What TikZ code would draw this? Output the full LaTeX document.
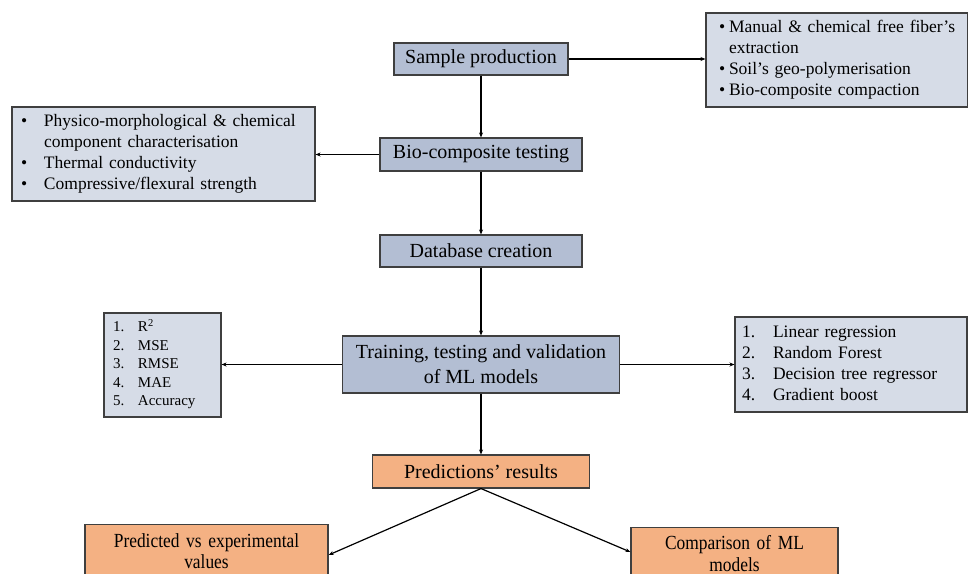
\documentclass[tikz,border=0pt]{standalone}
\usepackage{fontspec}
\setmainfont{Liberation Serif}
\newfontfamily\condserif{Liberation Serif}[FakeStretch=0.87]
\usetikzlibrary{arrows.meta,calc}
\definecolor{flowMain}{HTML}{B3BED3}
\definecolor{flowSide}{HTML}{D6DCE7}
\definecolor{flowResult}{HTML}{F4B183}
\definecolor{flowLine}{HTML}{3F3F3F}

\begin{document}
\begin{tikzpicture}[
    x=1pt, y=-1pt,
    >={Stealth[length=5pt,width=4pt]},
    line width=1.2pt,
    box/.style={draw=flowLine, line width=1.1pt, inner sep=0pt},
    mainbox/.style={box, fill=flowMain, align=center, font=\fontsize{20}{25}\selectfont},
    sidebox/.style={box, fill=flowSide, align=left, font=\fontsize{17.5}{21}\selectfont},
    resultbox/.style={box, fill=flowResult, align=center, inner ysep=9pt,
      font=\condserif\fontsize{20}{21.5}\selectfont},
    link/.style={->, black},
  ]
  \useasboundingbox (0,0) rectangle (968,573);

  % Main chain
  \node[mainbox, minimum width=174pt, minimum height=32pt] (sample) at (481,59) {Sample production};
  \node[mainbox, minimum width=202pt, minimum height=33pt] (testing) at (481,154.5) {Bio-composite testing};
  \node[mainbox, minimum width=202pt, minimum height=32pt] (database) at (481,251) {Database creation};
  \node[mainbox, minimum width=277pt, minimum height=57pt] (training) at (481,364.5)
    {Training, testing and validation\\ of ML models};
  \node[mainbox, fill=flowResult, minimum width=217pt, minimum height=33pt] (predictions) at (481,471.5)
    {Predictions’ results};

  % Side boxes
  \node[sidebox, minimum width=260pt, minimum height=94pt, text width=236pt, inner xsep=13pt] (fiber) at (837,60)
    {\begin{tabular}{@{}p{10pt}@{}l@{}}
      \textbullet & Manual \& chemical free fiber’s\\
      & extraction\\
      \textbullet & Soil’s geo-polymerisation\\
      \textbullet & Bio-composite compaction
    \end{tabular}};
  \node[sidebox, minimum width=303pt, minimum height=94pt, text width=285pt, inner xsep=9pt] (charact) at (163.5,154)
    {\begin{tabular}{@{}p{23pt}@{}l@{}}
      \textbullet & Physico-morphological \& chemical\\
      & component characterisation\\
      \textbullet & Thermal conductivity\\
      \textbullet & Compressive/flexural strength
    \end{tabular}};
  \node[sidebox, font=\fontsize{15}{18.5}\selectfont, minimum width=117pt, minimum height=104pt,
    text width=99pt, inner xsep=9pt] (metrics) at (162.5,365)
    {\begin{tabular}{@{}p{25pt}@{}l@{}}
      1. & R\textsuperscript{2}\\
      2. & MSE\\
      3. & RMSE\\
      4. & MAE\\
      5. & Accuracy
    \end{tabular}};
  \node[sidebox, minimum width=232pt, minimum height=95pt, text width=218pt, inner xsep=7pt] (models) at (851,364.5)
    {\begin{tabular}{@{}p{31pt}@{}l@{}}
      1. & Linear regression\\
      2. & Random Forest\\
      3. & Decision tree regressor\\
      4. & Gradient boost
    \end{tabular}};

  % Result boxes (cut by the lower edge)
  \node[resultbox, anchor=north, text width=243pt] (predexp) at (206.5,524)
    {Predicted vs experimental\\ values};
  \node[resultbox, anchor=north, text width=207pt, inner ysep=8pt] (compare) at (734.5,527)
    {Comparison of ML\\ models};

  % Connectors
  \draw[link] (sample) -- (testing);
  \draw[link] (testing) -- (database);
  \draw[link] (database) -- (training);
  \draw[link] (training) -- (predictions);
  \draw[link] (sample.east) -- (sample.east -| fiber.west);
  \draw[link] (testing.west) -- (testing.west -| charact.east);
  \draw[link] (training.west) -- (training.west -| metrics.east);
  \draw[link] (training.east) -- (training.east -| models.west);
  \draw[link] (predictions.south) -- ([yshift=-31pt]predexp.north east);
  \draw[link] (predictions.south) -- ([yshift=-25pt]compare.north west);
\end{tikzpicture}
\end{document}
